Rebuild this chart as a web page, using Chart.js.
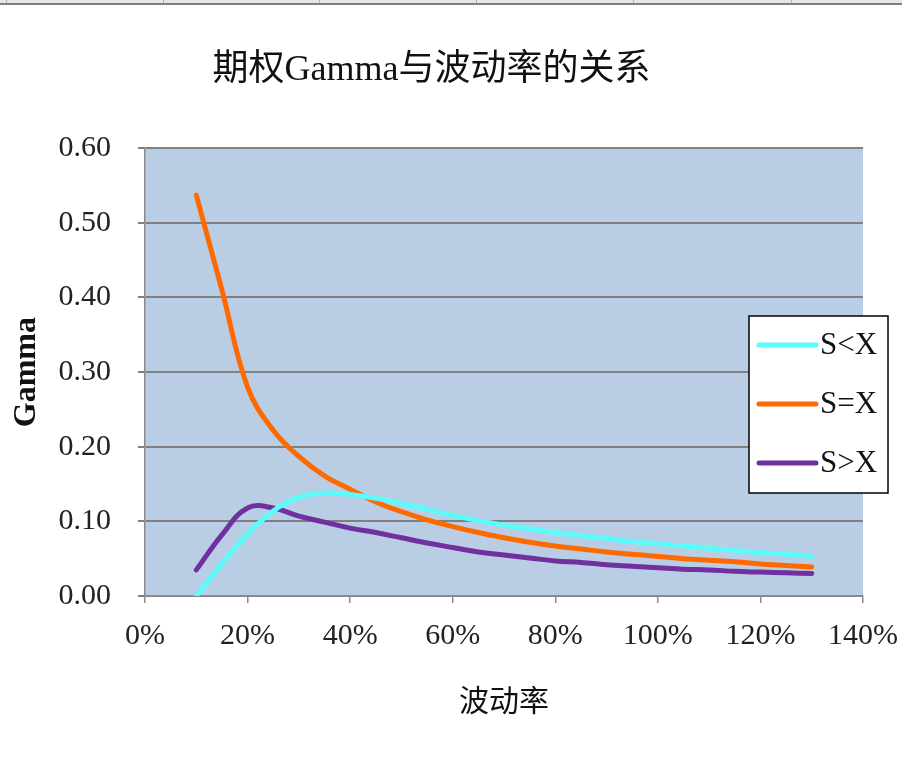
<!DOCTYPE html>
<html>
<head>
<meta charset="utf-8">
<title>期权Gamma与波动率的关系</title>
<script src="https://cdn.jsdelivr.net/npm/chart.js@4"></script>
<style>
    html, body { margin: 0; padding: 0; background: #ffffff; }
    #wrap { width: 902px; height: 776px; position: relative; }
</style>
</head>
<body>
<div id="wrap"><canvas id="grafico" width="902" height="776"></canvas></div>
<script>
// volatilidade (%)
const volatilidade = [10, 15, 20, 25, 30, 35, 40, 45, 50, 55, 60, 65, 70, 75, 80, 85, 90, 95, 100, 105, 110, 115, 120, 125, 130];

const gammaMenor = [0.000, 0.043, 0.083, 0.114, 0.132, 0.138, 0.136, 0.131, 0.124, 0.116, 0.108, 0.101, 0.095, 0.090, 0.085, 0.081, 0.077, 0.073, 0.070, 0.067, 0.064, 0.061, 0.058, 0.056, 0.053];
const gammaIgual = [0.537, 0.410, 0.280, 0.222, 0.187, 0.161, 0.143, 0.126, 0.113, 0.102, 0.093, 0.085, 0.078, 0.072, 0.067, 0.063, 0.059, 0.056, 0.053, 0.050, 0.048, 0.046, 0.043, 0.041, 0.039];
const gammaMaior = [0.035, 0.082, 0.118, 0.118, 0.107, 0.099, 0.091, 0.085, 0.078, 0.071, 0.065, 0.059, 0.055, 0.051, 0.047, 0.045, 0.042, 0.040, 0.038, 0.036, 0.035, 0.033, 0.032, 0.031, 0.030];

const nomesSeries = ['S<X', 'S=X', 'S>X'];
const coresSeries = ['#5cfcfc', '#ff6a00', '#7030a0'];

const fonteSerif = "'Liberation Serif', 'Noto Sans CJK SC', serif";

function pontos(valores) {
    return volatilidade.map((v, i) => ({ x: v, y: valores[i] }));
}

// fundo da area do grafico + faixa cinza no topo
const fundo = {
    id: 'fundo',
    beforeDraw(chart) {
        const { ctx, chartArea } = chart;
        ctx.save();
        ctx.fillStyle = '#b9cde5';
        ctx.fillRect(chartArea.left, chartArea.top, chartArea.right - chartArea.left, chartArea.bottom - chartArea.top);

        ctx.fillStyle = '#e6e6e6';
        ctx.fillRect(0, 0, chart.width, 3);
        ctx.strokeStyle = '#7f7f7f';
        ctx.lineWidth = 2;
        ctx.beginPath();
        ctx.moveTo(0, 4);
        ctx.lineTo(chart.width, 4);
        ctx.stroke();
        ctx.strokeStyle = '#b0b0b0';
        ctx.lineWidth = 1;
        for (let x of [6, 163, 319, 476, 633, 791]) {
            ctx.beginPath();
            ctx.moveTo(x + 0.5, 0);
            ctx.lineTo(x + 0.5, 3);
            ctx.stroke();
        }
        ctx.restore();
    }
};

// legenda em caixa sobre o grafico
const legenda = {
    id: 'legenda',
    afterDraw(chart) {
        const ctx = chart.ctx;
        const x = 749, y = 316, w = 139, h = 177;
        ctx.save();
        ctx.fillStyle = '#ffffff';
        ctx.fillRect(x, y, w, h);
        ctx.strokeStyle = '#000000';
        ctx.lineWidth = 1.5;
        ctx.strokeRect(x, y, w, h);
        ctx.font = '31px ' + fonteSerif;
        ctx.textBaseline = 'middle';
        ctx.fillStyle = '#111111';
        chart.data.datasets.forEach((ds, i) => {
            const yy = 345 + i * 59;
            ctx.strokeStyle = ds.borderColor;
            ctx.lineWidth = 5;
            ctx.lineCap = 'round';
            ctx.beginPath();
            ctx.moveTo(759, yy);
            ctx.lineTo(816, yy);
            ctx.stroke();
            ctx.fillText(ds.label, 820, yy + 1);
        });
        ctx.restore();
    }
};

new Chart('grafico', {
    type: 'line',
    data: {
        datasets: [{
            label: nomesSeries[0],
            data: pontos(gammaMenor),
            borderColor: coresSeries[0],
            backgroundColor: coresSeries[0],
        }, {
            label: nomesSeries[1],
            data: pontos(gammaIgual),
            borderColor: coresSeries[1],
            backgroundColor: coresSeries[1],
        }, {
            label: nomesSeries[2],
            data: pontos(gammaMaior),
            borderColor: coresSeries[2],
            backgroundColor: coresSeries[2],
        }].map(ds => Object.assign(ds, {
            borderWidth: 5,
            pointRadius: 0,
            fill: false,
            tension: 0.4,
            borderCapStyle: 'round',
            borderJoinStyle: 'round',
        })),
    },
    options: {
        responsive: false,
        animation: false,
        layout: { padding: { left: 0, right: 39, top: 0, bottom: 0 } },
        plugins: {
            legend: { display: false },
            tooltip: { enabled: false },
            title: {
                display: true,
                text: '期权Gamma与波动率的关系',
                color: '#111111',
                font: { family: fonteSerif, size: 36, weight: 'normal', lineHeight: 1.2 },
                padding: { top: 49, bottom: 56 },
            }
        },
        scales: {
            x: {
                type: 'linear',
                min: 0,
                max: 140,
                afterFit(scale) {
                    scale.height = 180;
                    scale.paddingLeft = 0;
                    scale.paddingRight = 0;
                },
                ticks: {
                    stepSize: 20,
                    padding: 15,
                    color: '#222222',
                    font: { family: fonteSerif, size: 30 },
                    callback: v => v + '%',
                },
                grid: { drawOnChartArea: false, drawTicks: true, tickLength: 7, color: '#8c8c8c', lineWidth: 1.5 },
                border: { color: '#8c8c8c', width: 1.5 },
                title: {
                    display: true,
                    text: '波动率',
                    color: '#111111',
                    font: { family: fonteSerif, size: 30, lineHeight: 1.2 },
                    padding: { top: 0, bottom: 55 },
                },
            },
            y: {
                min: 0,
                max: 0.6,
                afterFit(scale) { scale.width = 145; },
                ticks: {
                    stepSize: 0.1,
                    padding: 27,
                    color: '#222222',
                    font: { family: fonteSerif, size: 30 },
                    callback: v => v.toFixed(2),
                },
                grid: { color: '#808080', lineWidth: 2, tickLength: 7 },
                border: { color: '#8c8c8c', width: 1.5 },
                title: {
                    display: true,
                    text: 'Gamma',
                    color: '#111111',
                    font: { family: fonteSerif, size: 32, weight: 'bold', lineHeight: 1.2 },
                    padding: { top: 8, bottom: 0 },
                },
            }
        }
    },
    plugins: [fundo, legenda]
});
</script>
</body>
</html>
